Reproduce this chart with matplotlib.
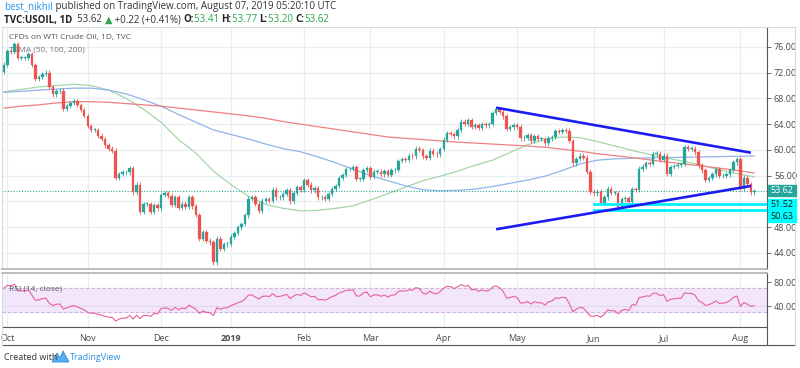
import numpy as np
import pandas as pd
import matplotlib
matplotlib.use("Agg")
import matplotlib.pyplot as plt
from matplotlib.patches import Polygon, Rectangle
from matplotlib.lines import Line2D

plt.rcParams['font.family'] = ['Open Sans', 'DejaVu Sans']

# ---------------- data ----------------
first_open = 72.10
close_sep = [73.25]
close_oct = [75.3, 75.2, 76.4, 74.3, 74.3, 74.3, 74.9, 73.2, 71.0, 71.3, 71.8, 72.0,
             69.75, 68.65, 69.1, 69.2, 66.4, 66.8, 67.3, 67.6, 67.0, 66.2, 65.3]
close_nov = [63.7, 63.1, 63.1, 62.2, 61.7, 60.7, 60.2, 59.9, 55.7, 56.25, 56.5, 56.5,
             57.2, 53.4, 54.6, 50.4, 51.6, 51.6, 50.3, 51.45, 50.9]
close_dec = [52.95, 53.25, 52.9, 51.5, 52.6, 51.0, 51.65, 51.15, 52.6, 51.2, 49.9, 46.2,
             47.2, 45.9, 45.6, 42.5, 46.2, 44.6, 45.3, 45.4]
close_jan = [46.5, 47.1, 47.96, 48.5, 49.8, 52.4, 52.6, 51.6, 50.5, 52.1, 52.3, 52.1,
             53.8, 52.6, 52.6, 53.1, 53.7, 52.0, 53.3, 54.2, 53.8]
close_feb = [55.3, 54.6, 53.7, 54.0, 52.6, 52.7, 52.4, 53.1, 53.9, 54.4, 55.6, 56.1,
             57.0, 57.0, 57.3, 55.5, 55.5, 56.9, 57.2]
close_mar = [55.8, 56.6, 56.6, 56.2, 56.7, 56.1, 56.8, 56.9, 58.3, 58.6, 58.5, 59.1,
             59.0, 60.2, 60.0, 59.0, 58.8, 59.9, 59.4, 59.3, 60.1]
close_apr = [61.6, 62.6, 62.5, 62.1, 63.1, 64.4, 64.0, 64.6, 63.6, 63.9, 63.4, 64.05,
             63.8, 64.0, 65.7, 66.3, 65.9, 65.2, 63.3, 63.5, 63.9]
close_may = [63.6, 61.8, 61.9, 62.25, 61.4, 62.1, 61.7, 61.7, 61.0, 61.8, 62.0, 62.9,
             62.8, 63.1, 63.0, 61.4, 57.9, 58.6, 59.1, 58.8, 56.6, 53.5]
close_jun = [53.25, 53.5, 51.7, 52.6, 53.99, 53.3, 53.3, 51.1, 52.3, 52.5, 51.9, 53.9,
             53.8, 57.1, 57.4, 57.9, 57.8, 59.4, 59.4, 58.5]
close_jul = [59.1, 56.25, 57.3, 57.5, 57.7, 57.8, 60.4, 60.2, 60.2, 59.6, 57.6, 56.8,
             55.3, 55.6, 56.2, 57.0, 55.9, 56.0, 56.2, 56.9, 58.05, 58.6]
close_aug = [53.95, 55.7, 54.7, 53.40, 53.62]

holidays = ['2018-11-22', '2018-12-25', '2019-01-01', '2019-01-21',
            '2019-02-18', '2019-04-19', '2019-05-27', '2019-07-04']

# SMA values every 5 bars (bar 0 ... bar 215)
ma_bars = list(range(0, 216, 5))
sma50 = [69.05, 69.4, 69.8, 70.0, 70.2, 70.0, 69.3, 68.0, 66.3, 64.3, 61.6, 59.5,
         56.7, 54.6, 52.8, 51.5, 50.9, 50.5, 50.6, 50.9, 51.3, 52.2, 53.2, 54.2,
         55.2, 55.9, 56.7, 57.6, 58.4, 59.6, 60.8, 61.6, 62.0, 61.9, 61.3, 60.6,
         59.9, 59.3, 58.7, 58.2, 57.6, 56.9, 56.3, 55.8]
sma100 = [68.95, 69.1, 69.3, 69.45, 69.6, 69.6, 69.3, 68.7, 67.8, 66.8, 65.5, 64.3,
          63.1, 62.4, 61.7, 60.9, 60.2, 59.7, 58.9, 58.0, 57.0, 56.0, 55.2, 54.4,
          53.8, 53.65, 53.7, 53.9, 54.3, 54.8, 55.3, 55.9, 56.8, 57.8, 58.4, 58.6,
          58.7, 58.75, 58.8, 58.85, 58.9, 58.95, 59.0, 59.05]
sma200 = [66.5, 66.8, 67.0, 67.3, 67.5, 67.5, 67.4, 67.2, 67.0, 66.8, 66.5, 66.2,
          65.9, 65.6, 65.3, 64.9, 64.4, 64.0, 63.6, 63.2, 62.8, 62.4, 62.0, 61.8,
          61.6, 61.4, 61.2, 61.05, 60.9, 60.75, 60.6, 60.4, 60.1, 59.8, 59.4, 59.1,
          58.8, 58.45, 58.1, 57.8, 57.5, 57.15, 56.8, 56.4]

rsi_seed_gain, rsi_seed_loss = 0.70, 0.30

trend_upper = [('2019-04-23', 66.56), ('2019-08-06', 59.56)]
trend_lower = [('2019-04-23', 47.65), ('2019-08-06', 54.38)]
support_start = '2019-06-03'
support_levels = [51.52, 50.63]
last_price = 53.62

price_ticks = [44, 48, 56, 60, 64, 68, 72, 76]
rsi_ticks = [40, 80]
month_labels = ['Oct', 'Nov', 'Dec', '2019', 'Feb', 'Mar', 'Apr', 'May', 'Jun', 'Jul', 'Aug']

# ---------------- derived ----------------
closes = np.array(close_sep + close_oct + close_nov + close_dec + close_jan + close_feb +
                  close_mar + close_apr + close_may + close_jun + close_jul + close_aug)
dates = pd.bdate_range('2018-09-28', '2019-08-07')
dates = dates[~dates.isin(pd.to_datetime(holidays))]
assert len(dates) == len(closes), (len(dates), len(closes))
assert len(ma_bars) == len(sma50) == len(sma100) == len(sma200)
opens = np.concatenate([[first_open], closes[:-1]])
idx = np.arange(len(closes))

def bar_of(d):
    return int(np.where(dates == pd.Timestamp(d))[0][0])

ms = []
prev = None
for i, d in enumerate(dates):
    key = (d.year, d.month)
    if key != prev:
        ms.append(i)
        prev = key
ms = ms[1:]

diff = np.diff(closes, prepend=closes[0])
ag, al = rsi_seed_gain, rsi_seed_loss
rsi = []
for dv in diff:
    g, l = max(dv, 0), max(-dv, 0)
    ag = (ag * 13 + g) / 14
    al = (al * 13 + l) / 14
    rsi.append(100 - 100 / (1 + ag / al))
rsi = np.array(rsi)

# ---------------- layout ----------------
W, H = 800, 368
fig = plt.figure(figsize=(W / 100, H / 100), dpi=100)
fig.patch.set_facecolor('white')

def fx(x):
    return x / W

def fy(y):
    return 1 - y / H

L, R = 2, 767
MT, MB = 27, 269
RT, RB = 273, 327
ax = fig.add_axes([fx(L), fy(MB), (R - L) / W, (MB - MT) / H])
rx = fig.add_axes([fx(L), fy(RB), (R - L) / W, (RB - RT) / H])

px_per_bar = 3.49
x0 = 4
xl = ((L - x0) / px_per_bar, (R - x0) / px_per_bar)
for a in (ax, rx):
    a.set_xlim(*xl)
    a.set_facecolor('white')

YMIN, YMAX = 41.47, 79.11
ax.set_ylim(YMIN, YMAX)
rx.set_ylim(5, 95)

GRID = '#e8eef4'
UP, DN = '#26a69a', '#ef5350'

for m in ms:
    ax.axvline(m, color=GRID, lw=0.9, zorder=0)
    rx.axvline(m, color=GRID, lw=0.9, zorder=0)
for p in price_ticks + [52]:
    ax.axhline(p, color=GRID, lw=0.9, zorder=0)

# candles
up = closes >= opens
body_lo = np.minimum(opens, closes)
body_hi = np.maximum(opens, closes)
hgt = np.maximum(body_hi - body_lo, 0.08)
cols = np.where(up, UP, DN)
wick = 0.35
ax.vlines(idx, body_lo - wick, body_hi + wick, colors=cols, lw=0.6, zorder=3)
ax.bar(idx, hgt, bottom=body_lo, width=0.7, color=cols, edgecolor=cols, lw=0.2, zorder=4)

# moving averages
ax.plot(ma_bars, sma50, color='#a5d6a7', lw=0.9, zorder=2)
ax.plot(ma_bars, sma100, color='#90b4e8', lw=0.9, zorder=2)
ax.plot(ma_bars, sma200, color='#f08080', lw=0.9, zorder=2)

ax.axhline(last_price, color=UP, lw=0.8, ls=(0, (1, 1.5)), zorder=2)

tl_col = '#1c1cf0'
for tr in (trend_upper, trend_lower):
    ax.plot([bar_of(tr[0][0]), bar_of(tr[1][0])], [tr[0][1], tr[1][1]],
            color=tl_col, lw=1.9, zorder=6, solid_capstyle='butt')
for lv in support_levels:
    ax.plot([bar_of(support_start), xl[1]], [lv, lv], color='#00f0ff', lw=2.0, zorder=5)

ax.yaxis.tick_right()
ax.set_yticks(price_ticks)
ax.set_yticklabels(['%.2f' % p for p in price_ticks])
ax.tick_params(axis='y', length=3, width=0.6, color='#555555', labelsize=6.5,
               labelcolor='#4a4a4a', pad=2)
ax.set_xticks([])
for s in ('top', 'left'):
    ax.spines[s].set_color('#d6dbe0')
    ax.spines[s].set_linewidth(0.8)
ax.spines['right'].set_color('#555555')
ax.spines['right'].set_linewidth(0.8)
ax.spines['bottom'].set_color('#b0b0b0')
ax.spines['bottom'].set_linewidth(1.2)

# RSI pane
rx.axhspan(30, 70, color='#f3e6fb', zorder=0)
rx.axhline(70, color='#cbb5dc', lw=0.8, ls=(0, (3, 2)), zorder=1)
rx.axhline(30, color='#cbb5dc', lw=0.8, ls=(0, (3, 2)), zorder=1)
rx.axhline(40, color='#e2d6ec', lw=0.7, zorder=1)
rx.plot(idx, rsi, color='#e8609a', lw=0.8, zorder=3)
rx.yaxis.tick_right()
rx.set_yticks(rsi_ticks)
rx.set_yticklabels(['%.2f' % v for v in rsi_ticks])
rx.tick_params(axis='y', length=3, width=0.6, color='#555555', labelsize=6.5,
               labelcolor='#4a4a4a', pad=2)
rx.set_xticks(ms)
rx.set_xticklabels(month_labels)
rx.tick_params(axis='x', length=0, labelsize=6.5, labelcolor='#4a4a4a', pad=5)
for lab in rx.get_xticklabels():
    if lab.get_text() == '2019':
        lab.set_fontweight('bold')
rx.spines['top'].set_color('#b0b0b0')
rx.spines['top'].set_linewidth(1.2)
rx.spines['left'].set_color('#d6dbe0')
rx.spines['left'].set_linewidth(0.8)
rx.spines['right'].set_color('#555555')
rx.spines['right'].set_linewidth(0.8)
rx.spines['bottom'].set_color('#555555')
rx.spines['bottom'].set_linewidth(0.8)

fig.add_artist(Line2D([fx(L), fx(795)], [fy(345), fy(345)], color='#555555', lw=0.8))
fig.add_artist(Line2D([fx(R), fx(R)], [fy(327), fy(345)], color='#555555', lw=0.8))
fig.add_artist(Line2D([fx(L), fx(L)], [fy(327), fy(345)], color='#d6dbe0', lw=0.8))
fig.add_artist(Line2D([fx(795), fx(795)], [fy(MT), fy(345)], color='#d6dbe0', lw=0.8))
fig.add_artist(Line2D([fx(R), fx(795)], [fy(MT), fy(MT)], color='#d6dbe0', lw=0.8))

def price_box(y, txt, bg, fg):
    fig.add_artist(Rectangle((fx(R + 1), fy(y + 5.5)), 28 / W, 11 / H, color=bg,
                             transform=fig.transFigure, zorder=10))
    fig.text(fx(R + 15), fy(y), txt, color=fg, fontsize=6.5, ha='center', va='center',
             zorder=11)

def ypx(price):
    return MT + (YMAX - price) / (YMAX - YMIN) * (MB - MT)

price_box(ypx(last_price), '%.2f' % last_price, UP, 'white')
price_box(ypx(support_levels[0]), '%.2f' % support_levels[0], '#00ffff', '#1a1a1a')
price_box(ypx(support_levels[0]) + 12, '%.2f' % support_levels[1], '#00ffff', '#1a1a1a')

fig.text(fx(9), fy(38), 'CFDs on WTI Crude Oil, 1D, TVC', fontsize=6, color='#555555',
         va='center')
fig.text(fx(9), fy(50), 'TSMA (50, 100, 200)', fontsize=6, color='#777777', va='center')
fig.text(fx(9), fy(289), 'RSI (14, close)', fontsize=6, color='#555555', va='center',
         zorder=10)

renderer = fig.canvas.get_renderer()

def seq(x, y, parts, size):
    for s, color, weight in parts:
        t = fig.text(fx(x), fy(y), s, color=color, fontsize=size, fontweight=weight,
                     va='center', ha='left')
        bb = t.get_window_extent(renderer)
        x += bb.width

G = '#2aa84a'
seq(4, 7, [('best_nikhil', '#2196f3', 'normal'),
           (' published on TradingView.com, August 07, 2019 05:20:10 UTC', '#333333', 'normal')], 7)
seq(4, 20, [('TVC:USOIL, 1D', '#222222', 'bold'), ('  53.62 ', '#333333', 'normal'),
            ('▲', G, 'normal'), (' +0.22 (+0.41%) ', '#333333', 'normal'),
            ('O:', '#222222', 'bold'), ('53.41 ', G, 'normal'),
            ('H:', '#222222', 'bold'), ('53.77 ', G, 'normal'),
            ('L:', '#222222', 'bold'), ('53.20 ', G, 'normal'),
            ('C:', '#222222', 'bold'), ('53.62', G, 'normal')], 7)

seq(4, 357, [('Created with', '#333333', 'normal')], 6.5)
logo = Polygon([[fx(52), fy(362)], [fx(57), fy(353)], [fx(60), fy(358)], [fx(63), fy(351)],
                [fx(69), fy(362)]], closed=True, transform=fig.transFigure,
               facecolor='#5aaef0', edgecolor='#2e8fe0', lw=0.6)
fig.add_artist(logo)
fig.text(fx(70), fy(357), 'TradingView', fontsize=6.5, color='#2e8fe0', va='center')

fig.savefig('out.png', dpi=100, facecolor='white')
